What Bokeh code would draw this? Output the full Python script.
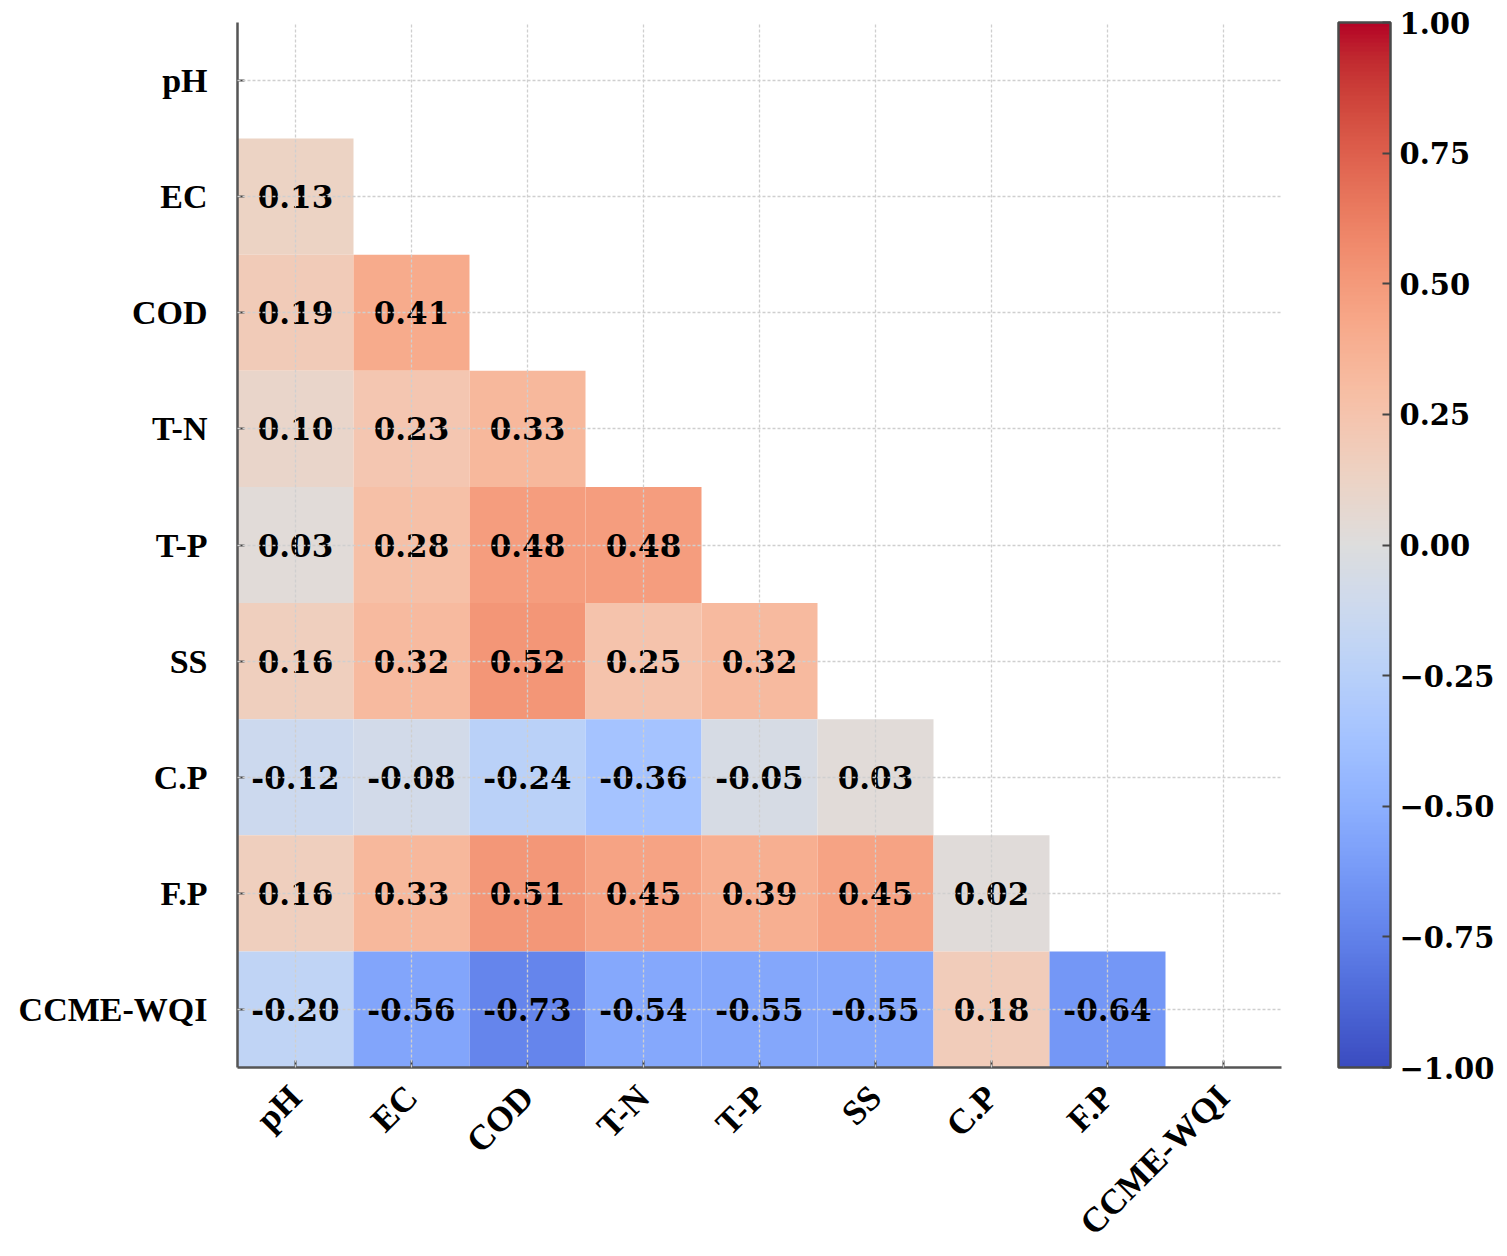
import numpy as np
from math import pi
from bokeh.plotting import figure
from bokeh.models import (ColumnDataSource, LinearColorMapper, ColorBar,
                          FixedTicker, CustomJSTickFormatter)
from bokeh.embed import file_html
from bokeh.resources import INLINE
from bokeh.core.properties import value

# ---------------- data ----------------
labels = ["pH", "EC", "COD", "T-N", "T-P", "SS", "C.P", "F.P", "CCME-WQI"]

row_EC   = [0.13]
row_COD  = [0.19, 0.41]
row_TN   = [0.10, 0.23, 0.33]
row_TP   = [0.03, 0.28, 0.48, 0.48]
row_SS   = [0.16, 0.32, 0.52, 0.25, 0.32]
row_CP   = [-0.12, -0.08, -0.24, -0.36, -0.05, 0.03]
row_FP   = [0.16, 0.33, 0.51, 0.45, 0.39, 0.45, 0.02]
row_WQI  = [-0.20, -0.56, -0.73, -0.54, -0.55, -0.55, 0.18, -0.64]

rows = [[], row_EC, row_COD, row_TN, row_TP, row_SS, row_CP, row_FP, row_WQI]

cbar_ticks = [-1.0, -0.75, -0.5, -0.25, 0.0, 0.25, 0.5, 0.75, 1.0]

# ---------------- coolwarm palette ----------------
cw_pts = [
    (59, 76, 192), (68, 90, 204), (77, 104, 215), (87, 117, 225), (98, 130, 234),
    (108, 142, 241), (119, 154, 247), (130, 165, 251), (141, 176, 254), (152, 185, 255),
    (163, 194, 255), (174, 201, 253), (184, 208, 249), (194, 213, 244), (204, 217, 238),
    (213, 219, 230), (221, 221, 221), (229, 216, 209), (236, 211, 197), (241, 204, 185),
    (245, 196, 173), (247, 187, 160), (247, 177, 148), (247, 166, 135), (244, 154, 123),
    (241, 141, 111), (236, 127, 99), (229, 112, 88), (222, 96, 77), (213, 80, 66),
    (203, 62, 56), (192, 40, 47), (180, 4, 38)]
cw_arr = np.array(cw_pts, dtype=float)
xs = np.linspace(0, 1, len(cw_pts))
palette = []
for t in np.linspace(0, 1, 256):
    r = np.interp(t, xs, cw_arr[:, 0])
    g = np.interp(t, xs, cw_arr[:, 1])
    b = np.interp(t, xs, cw_arr[:, 2])
    palette.append("#%02x%02x%02x" % (int(round(r)), int(round(g)), int(round(b))))

# ---------------- build table ----------------
cx, cy, cv, ct = [], [], [], []
for i, r in enumerate(rows):
    for j, v in enumerate(r):
        cx.append(labels[j])
        cy.append(labels[i])
        cv.append(v)
        ct.append("%.2f" % v)
src = ColumnDataSource(dict(x=cx, y=cy, v=cv, t=ct))

mapper = LinearColorMapper(palette=palette, low=-1, high=1)

NUMFONT = "DejaVu Serif"
LABFONT = "Liberation Serif"

p = figure(x_range=labels, y_range=labels[::-1],
           frame_width=1044, frame_height=1045,
           min_border_left=237, min_border_top=22, min_border_bottom=175,
           min_border_right=10,
           output_backend="svg", toolbar_location=None)
p.outline_line_color = None
p.background_fill_color = "white"
p.border_fill_color = "white"

p.rect(x="x", y="y", width=1, height=1, source=src,
       fill_color={"field": "v", "transform": mapper}, line_color=None)

p.text(x="x", y="y", text="t", source=src, text_align="center",
       text_baseline="middle", text_font=value(NUMFONT), text_font_style="bold",
       text_font_size="31px", text_color="black")

# grid
p.grid.grid_line_color = "#cfcfcf"
p.grid.grid_line_dash = "3 2"
p.grid.grid_line_width = 1.3
p.grid.level = "guide"

# axes
for ax in (p.xaxis, p.yaxis):
    ax.axis_line_color = "#555555"
    ax.axis_line_width = 2.5
    ax.major_tick_in = 7
    ax.major_tick_out = 0
    ax.major_tick_line_color = "#444444"
    ax.major_tick_line_width = 2
    ax.major_label_text_font = LABFONT
    ax.major_label_text_font_style = "bold"
    ax.major_label_text_font_size = "34px"
    ax.major_label_text_color = "black"

p.yaxis.major_label_standoff = 30
p.xaxis.major_label_orientation = pi / 4
p.xaxis.major_label_standoff = 24
p.xaxis.major_label_text_font_size = "35px"

cb = ColorBar(color_mapper=mapper,
              ticker=FixedTicker(ticks=cbar_ticks),
              formatter=CustomJSTickFormatter(code="return (tick < 0 ? '\u2212' : '') + Math.abs(tick).toFixed(2);"),
              width=52, height=1045, location=(57, 0),
              padding=0, margin=0,
              bar_line_color="#4a4a4a", bar_line_width=2.5,
              major_tick_in=8, major_tick_out=0,
              major_tick_line_color="#444444", major_tick_line_width=2,
              minor_tick_line_color=None,
              major_label_text_font=NUMFONT,
              major_label_text_font_style="bold",
              major_label_text_font_size="29px",
              major_label_text_color="black",
              label_standoff=9,
              background_fill_color=None,
              border_line_color=None)
p.add_layout(cb, "right")

open("out.html", "w").write(file_html(p, INLINE))
